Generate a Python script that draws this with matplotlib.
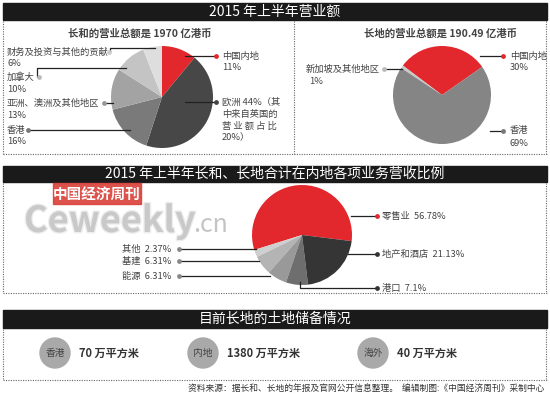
import matplotlib
matplotlib.use('Agg')
import matplotlib.pyplot as plt
import matplotlib.patheffects as pe
from matplotlib.patches import Rectangle, Circle

plt.rcParams['font.family'] = ['Noto Sans CJK SC', 'DejaVu Sans']

# Data
hutch_labels = ['中国内地', '欧洲', '香港', '亚洲、澳洲及其他地区', '加拿大', '财务及投资与其他的贡献']
hutch_share = [11, 44, 16, 13, 10, 6]
hutch_total = 1970

ckp_labels = ['中国内地', '新加坡及其他地区', '香港']
ckp_share = [30, 1, 69]
ckp_total = 190.49

biz_labels = ['零售业', '其他', '基建', '能源', '港口', '地产和酒店']
biz_share = [56.78, 2.37, 6.31, 6.31, 7.1, 21.13]

land_regions = ['香港', '内地', '海外']
land_area = [70, 1380, 40]

RED = '#e2282c'
H = 398


def Y(y):
    # pixel row (top = 0) -> axes y
    return H - y


fig = plt.figure(figsize=(5.5, 3.98), dpi=100)
ax = fig.add_axes([0, 0, 1, 1])


def bar(y0, y1, text):
    ax.add_patch(Rectangle((3, Y(y1)), 544, y1 - y0, color='#1a1a1a', zorder=1))
    ax.text(275, Y((y0 + y1) / 2), text, color='white', fontsize=10,
            ha='center', va='center', zorder=2)


def dotted(x0, y0, x1, y1):
    ax.plot([x0, x1], [Y(y0), Y(y1)], ls=(0, (1, 1.2)), color='#666666', lw=0.8)


def label(x, y, lines, dot_color, ha='left', line_pts=None, fs=6.7):
    for i, s in enumerate(lines):
        ax.text(x, Y(y + i * 12), s, fontsize=fs, color='#444444', ha=ha, va='center', zorder=5)
    if line_pts is not None:
        xs = [p[0] for p in line_pts]
        ys = [Y(p[1]) for p in line_pts]
        ax.plot(xs, ys, color='#222222', lw=0.9, zorder=4)
        ax.scatter([xs[-1]], [ys[-1]], s=12, color=dot_color, zorder=6, linewidths=0)


# ---- section 1 ----
bar(3, 20, '2015 年上半年营业额')
dotted(3, 154, 547, 154)
dotted(3, 21, 3, 154)
dotted(294, 21, 294, 154)
dotted(546, 21, 546, 154)

ax.text(140, Y(34), f'长和的营业总额是 {hutch_total} 亿港币', fontsize=7.5,
        fontweight='bold', color='#444444', ha='center', va='center')
ax.pie(hutch_share, colors=[RED, '#474747', '#7a7a7a', '#a3a3a3', '#c4c4c4', '#dedede'],
       startangle=90, counterclock=False, center=(162, Y(97)), radius=51,
       wedgeprops=dict(linewidth=0), frame=True)

label(222, 56, [hutch_labels[0], f'{hutch_share[0]}%'], RED, line_pts=[(185, 56), (216, 56)])
label(222, 102, [f'{hutch_labels[1]} {hutch_share[1]}%（其', '中来自英国的', '营 业 额 占 比', '20%）'],
      '#444444', line_pts=[(185, 102), (216, 102)])
label(7, 130, [hutch_labels[2], f'{hutch_share[2]}%'], '#777777', line_pts=[(130, 130), (28, 130)])
label(7, 103, [hutch_labels[3], f'{hutch_share[3]}%'], '#999999', line_pts=[(113, 103), (104, 103)])
label(7, 77, [hutch_labels[4], f'{hutch_share[4]}%'], '#bbbbbb',
      line_pts=[(126, 68), (37, 68), (37, 77), (39, 77)])
label(7, 52, [hutch_labels[5], f'{hutch_share[5]}%'], '#cccccc',
      line_pts=[(155, 48), (110, 48), (110, 52), (109, 52)])

ax.text(440, Y(34), f'长地的营业总额是 {ckp_total} 亿港币', fontsize=7.5,
        fontweight='bold', color='#444444', ha='center', va='center')
ax.pie(ckp_share, colors=[RED, '#c8c8c8', '#858585'], startangle=35,
       center=(442, Y(95)), radius=49, wedgeprops=dict(linewidth=0), frame=True)
label(510, 56, [ckp_labels[0], f'{ckp_share[0]}%'], RED, line_pts=[(480, 56), (503, 56)])
label(380, 69, [ckp_labels[1]], '#bbbbbb', ha='right', line_pts=[(402, 69), (384, 69)])
ax.text(309, Y(81), f'{ckp_share[1]}%', fontsize=6.7, color='#444444', va='center')
label(510, 131, [ckp_labels[2], f'{ckp_share[2]}%'], '#777777', line_pts=[(490, 131), (503, 131)])

# ---- section 2 ----
bar(166, 182, '2015 年上半年长和、长地合计在内地各项业务营收比例')
dotted(3, 293, 547, 293)
dotted(3, 183, 3, 293)
dotted(546, 183, 546, 293)

# watermark
ax.add_patch(Rectangle((53, Y(204)), 88, 21, color='#d9403a', alpha=0.9, zorder=3))
ax.text(97, Y(193.5), '中国经济周刊', fontsize=10.5, fontweight='bold', color='white',
        ha='center', va='center', zorder=4)
ax.text(24, Y(232), 'Ceweekly', fontsize=26, fontweight='bold', color='#c9c9c9',
        ha='left', va='baseline', zorder=2,
        path_effects=[pe.withStroke(linewidth=2, foreground='#eeeeee')])
ax.text(193, Y(232), '.cn', fontsize=18, color='#c4c4c4', ha='left', va='baseline', zorder=2)

ax.pie(biz_share, colors=[RED, '#cfcfcf', '#b4b4b4', '#999999', '#6e6e6e', '#353535'],
       startangle=-7, center=(302, Y(235)), radius=50,
       wedgeprops=dict(linewidth=0), frame=True)

label(382, 216, [f'{biz_labels[0]}  {biz_share[0]}%'], RED, line_pts=[(351, 216), (377, 216)])
label(382, 254, [f'{biz_labels[5]}  {biz_share[5]}%'], '#333333', line_pts=[(348, 254), (377, 254)])
label(382, 288, [f'{biz_labels[4]}  {biz_share[4]}%'], '#333333',
      line_pts=[(300, 282), (300, 288), (377, 288)])
label(171, 249, [f'{biz_labels[1]}  {biz_share[1]}%'], '#888888', ha='right',
      line_pts=[(256, 249), (179, 249)])
label(171, 261, [f'{biz_labels[2]}  {biz_share[2]}%'], '#888888', ha='right',
      line_pts=[(259, 261), (179, 261)])
label(171, 276, [f'{biz_labels[3]}  {biz_share[3]}%'], '#888888', ha='right',
      line_pts=[(270, 276), (179, 276)])

# ---- section 3 ----
bar(310, 328, '目前长地的土地储备情况')
dotted(3, 380, 547, 380)
dotted(3, 329, 3, 380)
dotted(546, 329, 546, 380)

for cx, region, area in zip([55, 203, 373], land_regions, land_area):
    ax.add_patch(Circle((cx, Y(353)), 15, color='#a9a9a9', zorder=2))
    ax.text(cx, Y(353), region, fontsize=7, color='#444444', ha='center', va='center', zorder=3)
    ax.text(cx + 24, Y(353), f'{area} 万平方米', fontsize=8, fontweight='bold',
            color='#333333', ha='left', va='center', zorder=3)

ax.text(544, Y(388), '资料来源：据长和、长地的年报及官网公开信息整理。  编辑制图:《中国经济周刊》采制中心',
        fontsize=6.3, color='#333333', ha='right', va='center')

ax.set_xlim(0, 550)
ax.set_ylim(0, H)
ax.set_aspect('auto')
ax.axis('off')

fig.savefig('out.png', dpi=100, facecolor='white')
